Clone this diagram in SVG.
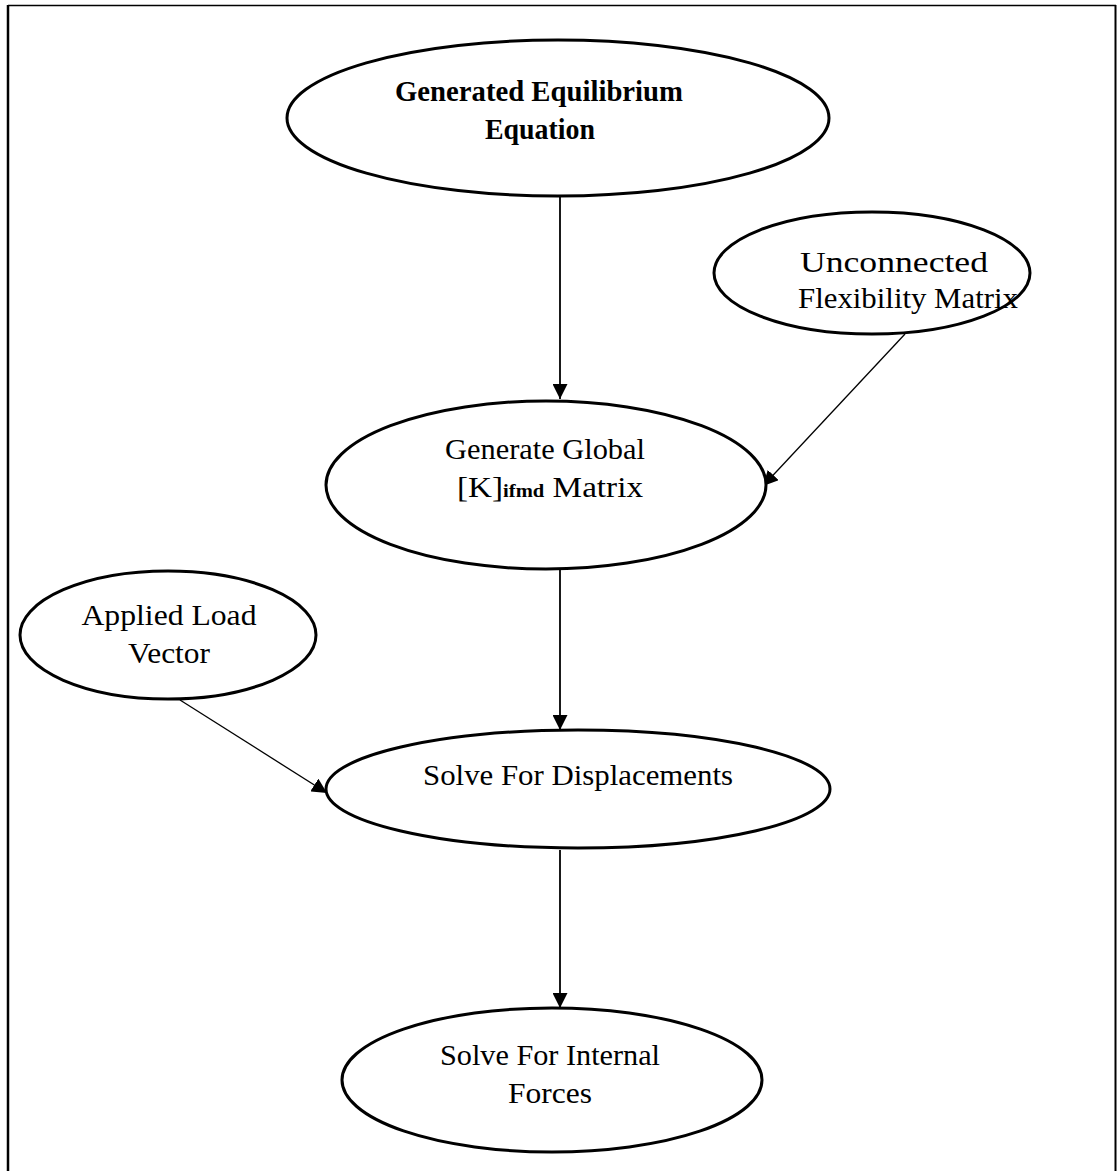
<svg xmlns="http://www.w3.org/2000/svg" width="1118" height="1171" viewBox="0 0 1118 1171">
<defs>
<marker id="ah" viewBox="0 0 10 10" refX="10" refY="5" markerWidth="15" markerHeight="15" markerUnits="userSpaceOnUse" orient="auto">
<path d="M0,0 L10,5 L0,10 Z" fill="#000"/>
</marker>
</defs>
<style>
.node{fill:#fff;stroke:#000;stroke-width:3}
.t{font-family:"Liberation Serif","Times New Roman",serif;font-size:29px;fill:#000;text-anchor:middle}
.b{font-weight:bold}
.c{stroke:#000;fill:none;marker-end:url(#ah)}
</style>
<rect width="1118" height="1171" fill="#fff"/>
<g id="frame">
<line x1="8" y1="5.5" x2="1116" y2="5.5" stroke="#000" stroke-width="1.5"/>
<line x1="8" y1="5" x2="8" y2="1171" stroke="#000" stroke-width="2.5"/>
<line x1="1115.5" y1="5" x2="1115.5" y2="1171" stroke="#000" stroke-width="2"/>
</g>
<g id="connectors">
<line class="c" x1="560" y1="197" x2="560" y2="399" stroke-width="1.8"/>
<line class="c" x1="905" y1="334" x2="763" y2="486" stroke-width="1.3"/>
<line class="c" x1="560" y1="570" x2="560" y2="730" stroke-width="1.8"/>
<line class="c" x1="180" y1="700" x2="327" y2="793" stroke-width="1.3"/>
<line class="c" x1="560" y1="850" x2="560" y2="1008" stroke-width="1.8"/>
</g>
<g id="n1">
<ellipse class="node" cx="558" cy="118" rx="271" ry="78"/>
<text class="t b" x="539" y="101" textLength="288" lengthAdjust="spacingAndGlyphs">Generated Equilibrium</text>
<text class="t b" x="540" y="139" textLength="110" lengthAdjust="spacingAndGlyphs">Equation</text>
</g>
<g id="n2">
<ellipse class="node" cx="872" cy="273" rx="158" ry="61"/>
<text class="t" x="894" y="272" textLength="188" lengthAdjust="spacingAndGlyphs">Unconnected</text>
<text class="t" x="908" y="308" textLength="220" lengthAdjust="spacingAndGlyphs">Flexibility  Matrix</text>
</g>
<g id="n3">
<ellipse class="node" cx="546" cy="485" rx="220" ry="84"/>
<text class="t" x="545" y="459" textLength="200" lengthAdjust="spacingAndGlyphs">Generate  Global</text>
<text class="t" x="457" y="497" style="text-anchor:start" textLength="186" lengthAdjust="spacingAndGlyphs">[K]<tspan style="font-size:18px;font-weight:bold">ifmd</tspan> Matrix</text>
</g>
<g id="n4">
<ellipse class="node" cx="168" cy="635" rx="148" ry="64"/>
<text class="t" x="169" y="625" textLength="175" lengthAdjust="spacingAndGlyphs">Applied  Load</text>
<text class="t" x="169" y="663" textLength="82" lengthAdjust="spacingAndGlyphs">Vector</text>
</g>
<g id="n5">
<ellipse class="node" cx="578" cy="789" rx="252" ry="59"/>
<text class="t" x="578" y="785" textLength="310" lengthAdjust="spacingAndGlyphs">Solve For Displacements</text>
</g>
<g id="n6">
<ellipse class="node" cx="552" cy="1080" rx="210" ry="72"/>
<text class="t" x="550" y="1065" textLength="220" lengthAdjust="spacingAndGlyphs">Solve For Internal</text>
<text class="t" x="550" y="1103" textLength="84" lengthAdjust="spacingAndGlyphs">Forces</text>
</g>
</svg>
